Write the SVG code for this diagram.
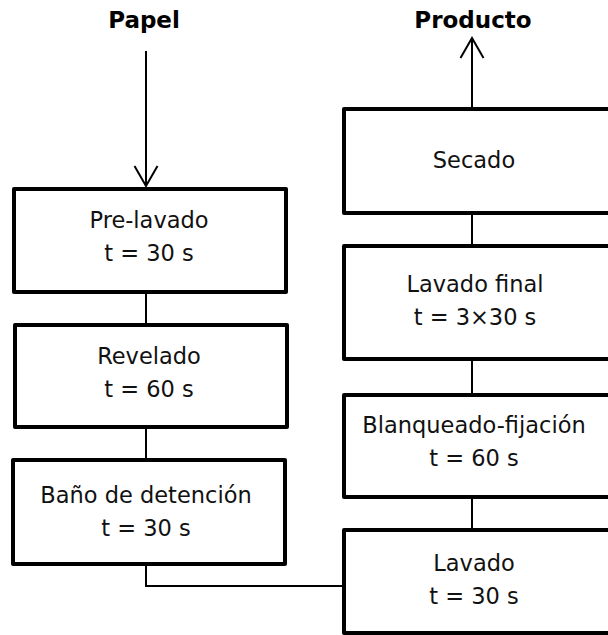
<svg xmlns="http://www.w3.org/2000/svg" width="608" height="635" viewBox="0 0 608 635">
  <style>
    .box { fill: #ffffff; stroke: #000000; stroke-width: 4; stroke-linejoin: round; }
    .lbl { font-family: "DejaVu Sans", "Liberation Sans", sans-serif; font-size: 22.5px; fill: #111111; text-anchor: middle; }
    .title { font-family: "DejaVu Sans", "Liberation Sans", sans-serif; font-size: 23px; font-weight: bold; fill: #000000; text-anchor: middle; }
    .wire { fill: none; stroke: #000000; stroke-width: 2; }
  </style>
  <defs>
    <marker id="openArrow" markerUnits="userSpaceOnUse" viewBox="-22 -14 24 28" refX="0" refY="0" markerWidth="24" markerHeight="28" orient="auto" overflow="visible">
      <path d="M-20,-11.5 L0,0 L-20,11.5" fill="none" stroke="#000000" stroke-width="2"/>
    </marker>
  </defs>

  <rect width="608" height="635" fill="#ffffff"/>

  <!-- connectors -->
  <g id="connectors">
    <line class="wire" x1="146" y1="51" x2="146" y2="186" marker-end="url(#openArrow)"/>
    <line class="wire" x1="146" y1="291" x2="146" y2="325"/>
    <line class="wire" x1="146" y1="427" x2="146" y2="460"/>
    <polyline class="wire" points="146,564 146,586 344,586"/>
    <line class="wire" x1="472" y1="530" x2="472" y2="497"/>
    <line class="wire" x1="472" y1="395" x2="472" y2="359"/>
    <line class="wire" x1="472" y1="246" x2="472" y2="213"/>
    <line class="wire" x1="472" y1="109" x2="472" y2="38" marker-end="url(#openArrow)"/>
  </g>

  <!-- input / output labels -->
  <g id="input-label">
    <text class="title" x="144" y="28">Papel</text>
  </g>
  <g id="output-label">
    <text class="title" x="473" y="28">Producto</text>
  </g>

  <!-- left column -->
  <g id="pre-lavado">
    <rect class="box" x="14" y="189" width="272" height="103"/>
    <text class="lbl" x="149" y="228">Pre-lavado</text>
    <text class="lbl" x="149" y="261">t = 30 s</text>
  </g>
  <g id="revelado">
    <rect class="box" x="15" y="325" width="272" height="102"/>
    <text class="lbl" x="149" y="364">Revelado</text>
    <text class="lbl" x="149" y="397">t = 60 s</text>
  </g>
  <g id="bano-detencion">
    <rect class="box" x="13" y="460" width="272" height="104"/>
    <text class="lbl" x="146" y="503">Baño de detención</text>
    <text class="lbl" x="146" y="536">t = 30 s</text>
  </g>

  <!-- right column (boxes run past the right edge) -->
  <g id="lavado">
    <rect class="box" x="344" y="530" width="280" height="103"/>
    <text class="lbl" x="474" y="571">Lavado</text>
    <text class="lbl" x="474" y="604">t = 30 s</text>
  </g>
  <g id="blanqueado-fijacion">
    <rect class="box" x="344" y="395" width="280" height="102"/>
    <text class="lbl" x="474" y="433">Blanqueado-fijación</text>
    <text class="lbl" x="474" y="466">t = 60 s</text>
  </g>
  <g id="lavado-final">
    <rect class="box" x="344" y="246" width="280" height="113"/>
    <text class="lbl" x="475" y="292">Lavado final</text>
    <text class="lbl" x="475" y="325">t = 3×30 s</text>
  </g>
  <g id="secado">
    <rect class="box" x="344" y="109" width="280" height="104"/>
    <text class="lbl" x="474" y="168">Secado</text>
  </g>
</svg>
